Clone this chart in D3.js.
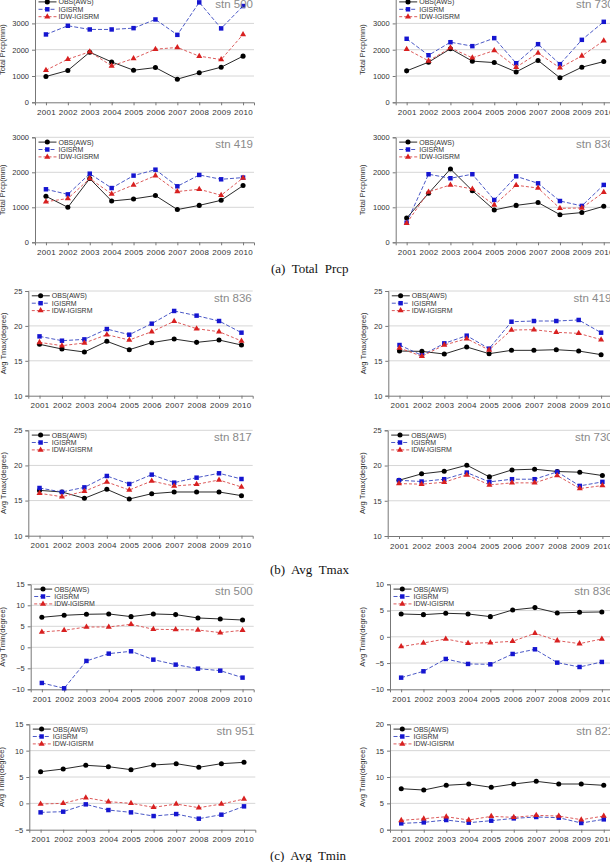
<!DOCTYPE html>
<html><head><meta charset="utf-8">
<script src="https://cdn.jsdelivr.net/npm/d3@7"></script>
<style>body{margin:0;background:#fff}svg{display:block}</style>
</head><body><svg id="c" width="610" height="862"></svg>
<script>
const years = [2001,2002,2003,2004,2005,2006,2007,2008,2009,2010];
const seriesNames = ["OBS(AWS)","IGISRM","IDW-IGISRM"];

// (a) Total Prcp
const prcp500Obs  = [980,1210,1905,1535,1220,1320,880,1120,1335,1755];
const prcp500Igis = [2580,2910,2770,2770,2820,3150,2565,3800,2810,3660];
const prcp500Idw  = [1220,1640,1920,1385,1665,2020,2085,1755,1625,2580];
const prcp730Obs  = [1195,1525,2035,1565,1510,1155,1590,930,1335,1550];
const prcp730Igis = [2415,1790,2285,2135,2440,1485,2210,1450,2375,3060];
const prcp730Idw  = [2020,1575,2070,1690,1970,1335,1870,1310,1765,2340];
const prcp419Obs  = [1315,1000,1820,1180,1240,1335,935,1055,1200,1620];
const prcp419Igis = [1515,1370,1960,1550,1905,2075,1600,1925,1800,1850];
const prcp419Idw  = [1160,1250,1820,1380,1640,1905,1450,1515,1345,1840];
const prcp836Obs  = [695,1400,2095,1475,925,1055,1135,790,850,1030];
const prcp836Igis = [560,1945,1830,1945,1210,1885,1685,1180,1040,1640];
const prcp836Idw  = [545,1440,1640,1525,1065,1630,1550,970,980,1430];
// (b) Avg Tmax
const tmax836Obs  = [17.36,16.69,16.26,17.79,16.59,17.6,18.12,17.64,17.98,17.26];
const tmax836Igis = [18.5,17.88,18.07,19.55,18.74,20.32,22.14,21.47,20.7,19.03];
const tmax836Idw  = [17.64,17.17,17.55,18.74,17.98,19.17,20.65,19.6,19.17,17.84];
const tmax419Obs  = [16.4,16.35,15.97,16.98,16.02,16.5,16.5,16.59,16.4,15.88];
const tmax419Igis = [17.26,15.78,17.5,18.6,16.74,20.6,20.7,20.7,20.85,19.03];
const tmax419Idw  = [16.83,15.64,17.26,18.17,16.55,19.41,19.46,19.08,18.93,18.03];
const tmax817Obs  = [16.45,16.22,15.32,16.6,15.22,15.98,16.22,16.22,16.22,15.7];
const tmax817Igis = [16.79,16.22,16.88,18.5,17.36,18.69,17.55,18.26,18.88,18.07];
const tmax817Idw  = [16.03,15.55,16.31,17.64,16.5,17.78,17.07,17.31,17.93,16.93];
const tmax730Obs  = [17.91,18.82,19.19,20.05,18.39,19.38,19.48,19.15,19.05,18.58];
const tmax730Igis = [17.91,17.73,18.06,19.0,17.68,18.06,18.06,19.1,17.11,17.68];
const tmax730Idw  = [17.44,17.35,17.63,18.67,17.25,17.54,17.54,18.58,16.73,17.16];
// (c) Avg Tmin
const tmin500Obs  = [7.14,7.62,7.86,7.94,7.3,7.94,7.78,6.98,6.75,6.5];
const tmin500Igis = [-8.49,-9.76,-3.25,-1.51,-0.95,-2.94,-4.13,-5.08,-5.56,-7.22];
const tmin500Idw  = [3.65,4.05,4.84,4.84,5.48,4.29,4.21,4.13,3.49,4.05];
const tmin836Obs  = [4.35,4.22,4.48,4.35,3.84,5.11,5.56,4.54,4.67,4.73];
const tmin836Igis = [-7.78,-6.57,-4.22,-5.17,-5.24,-3.27,-2.38,-4.92,-5.75,-4.79];
const tmin836Idw  = [-1.87,-1.17,-0.41,-1.24,-1.11,-0.86,0.67,-0.73,-1.3,-0.41];
const tmin951Obs  = [6.01,6.52,7.22,6.96,6.39,7.28,7.53,6.84,7.53,7.78];
const tmin951Igis = [-1.71,-1.58,-0.19,-1.27,-1.71,-2.41,-2.03,-2.91,-2.15,-0.57];
const tmin951Idw  = [-0.13,0.0,1.08,0.32,0.0,-0.76,-0.13,-0.82,-0.13,0.82];
const tmin821Obs  = [7.78,7.53,8.42,8.67,8.04,8.67,9.18,8.67,8.67,8.42];
const tmin821Igis = [1.2,1.39,1.84,1.33,1.71,2.15,2.41,2.28,1.27,1.96];
const tmin821Idw  = [1.77,2.09,2.47,1.84,2.53,2.34,2.72,2.59,1.9,2.59];

const prcpTicks = [0,1000,2000,3000,4000];
const tmaxTicks = [10,15,20,25];
const tmin500Ticks = [-10,-5,0,5,10,15];
const tmin836Ticks = [-10,-5,0,5,10];
const tmin951Ticks = [-5,0,5,10,15];
const tmin821Ticks = [0,5,10,15,20];
const captions = ["(a)  Total  Prcp","(b)  Avg  Tmax","(c)  Avg  Tmin"];

const panels = [
 {stn:"stn 500", s:[prcp500Obs,prcp500Igis,prcp500Idw], dom:[0,4000], ticks:prcpTicks, yl:"Total Prcp(mm)"},
 {stn:"stn 730", s:[prcp730Obs,prcp730Igis,prcp730Idw], dom:[0,4000], ticks:prcpTicks, yl:"Total Prcp(mm)"},
 {stn:"stn 419", s:[prcp419Obs,prcp419Igis,prcp419Idw], dom:[0,3000], ticks:prcpTicks.slice(0,4), yl:"Total Prcp(mm)"},
 {stn:"stn 836", s:[prcp836Obs,prcp836Igis,prcp836Idw], dom:[0,3000], ticks:prcpTicks.slice(0,4), yl:"Total Prcp(mm)"},
 {stn:"stn 836", s:[tmax836Obs,tmax836Igis,tmax836Idw], dom:[10,25], ticks:tmaxTicks, yl:"Avg Tmax(degree)"},
 {stn:"stn 419", s:[tmax419Obs,tmax419Igis,tmax419Idw], dom:[10,25], ticks:tmaxTicks, yl:"Avg Tmax(degree)"},
 {stn:"stn 817", s:[tmax817Obs,tmax817Igis,tmax817Idw], dom:[10,25], ticks:tmaxTicks, yl:"Avg Tmax(degree)"},
 {stn:"stn 730", s:[tmax730Obs,tmax730Igis,tmax730Idw], dom:[10,25], ticks:tmaxTicks, yl:"Avg Tmax(degree)"},
 {stn:"stn 500", s:[tmin500Obs,tmin500Igis,tmin500Idw], dom:[-10,15], ticks:tmin500Ticks, yl:"Avg Tmin(degree)"},
 {stn:"stn 836", s:[tmin836Obs,tmin836Igis,tmin836Idw], dom:[-10,10], ticks:tmin836Ticks, yl:"Avg Tmin(degree)"},
 {stn:"stn 951", s:[tmin951Obs,tmin951Igis,tmin951Idw], dom:[-5,15], ticks:tmin951Ticks, yl:"Avg Tmin(degree)"},
 {stn:"stn 821", s:[tmin821Obs,tmin821Igis,tmin821Idw], dom:[0,20], ticks:tmin821Ticks, yl:"Avg Tmin(degree)"}
];
// layout (pixels)
const layout = [
 {x0:35,w:219,top:-2.9,bottom:102.3,lab:33},
 {x0:395.7,w:219,top:-2.9,bottom:102.3,lab:33},
 {x0:35,w:219,top:137.3,bottom:242.3,lab:33},
 {x0:395.7,w:219,top:137.3,bottom:242.3,lab:33},
 {x0:28.3,w:224.4,top:291,bottom:395.7,lab:25},
 {x0:388.3,w:224,top:291,bottom:395.7,lab:25},
 {x0:28.3,w:224.4,top:430.3,bottom:535.7,lab:25},
 {x0:387.7,w:226,top:430.3,bottom:536,lab:25},
 {x0:30.7,w:223,top:584.3,bottom:689.3,lab:28},
 {x0:390,w:223,top:584.3,bottom:689.3,lab:28},
 {x0:29.3,w:226,top:724.3,bottom:829.7,lab:28},
 {x0:390,w:225,top:724.3,bottom:829.7,lab:28}
];
const capPos = [{x:271,y:273},{x:270,y:574},{x:270,y:860}];

const styles = [
 {line:"#111", dash:null, fill:"#000", shape:d3.symbolCircle, size:20},
 {line:"#3545c0", dash:"4,2", fill:"#1515d0", shape:d3.symbolSquare, size:20},
 {line:"#d84848", dash:"3,2", fill:"#d82020", shape:d3.symbolTriangle, size:16}
];

const svg = d3.select("#c");
const FONT = "'Liberation Sans', Arial, sans-serif";

panels.forEach((p,i)=>{
  const L = layout[i];
  const g = svg.append("g");
  const x = d3.scaleLinear().domain([2000.5,2010.5]).range([L.x0, L.x0+L.w]);
  const y = d3.scaleLinear().domain(p.dom).range([L.bottom, L.top]);
  g.selectAll("line.grid").data(p.ticks.filter(t=>t!==p.dom[0])).join("line")
    .attr("x1",L.x0).attr("x2",L.x0+L.w).attr("y1",d=>y(d)).attr("y2",d=>y(d))
    .attr("stroke","#d6d6d6").attr("stroke-width",1);
  const ya = g.append("g").attr("transform",`translate(${L.x0},0)`)
    .call(d3.axisLeft(y).tickValues(p.ticks).tickSize(3).tickPadding(3).tickFormat(d3.format("d")));
  const xa = g.append("g").attr("transform",`translate(0,${L.bottom})`)
    .call(d3.axisBottom(x).tickValues(years).tickSize(3).tickPadding(4).tickFormat(d3.format("d")));
  [ya,xa].forEach(a=>{
    a.select(".domain").attr("stroke","#777");
    a.selectAll(".tick line").attr("stroke","#777");
    a.selectAll(".tick text").attr("fill","#333").style("font-family",FONT);
  });
  ya.selectAll(".tick text").style("font-size","7.5px");
  xa.selectAll(".tick text").style("font-size","8px").style("letter-spacing","0.3px");
  g.append("text").attr("transform",`translate(${L.x0-L.lab},${(L.top+L.bottom)/2}) rotate(-90)`)
    .attr("text-anchor","middle").attr("dy","0.35em").attr("fill","#333")
    .style("font-family",FONT).style("font-size","7.5px").text(p.yl);
  p.s.forEach((vals,k)=>{
    const st = styles[k];
    const line = d3.line().x((d,j)=>x(years[j])).y(d=>y(d));
    g.append("path").datum(vals).attr("d",line).attr("fill","none")
      .attr("stroke",st.line).attr("stroke-width",0.9)
      .attr("stroke-dasharray",st.dash);
    g.selectAll(null).data(vals).join("path")
      .attr("transform",(d,j)=>`translate(${x(years[j])},${y(d)})`)
      .attr("d",d3.symbol().type(st.shape).size(st.size)).attr("fill",st.fill);
  });
  const lg = g.append("g").attr("transform",`translate(${L.x0},${L.top})`);
  seriesNames.forEach((n,k)=>{
    const st = styles[k];
    const yy = 4.8 + k*7.4;
    lg.append("line").attr("x1",3.5).attr("x2",21.5).attr("y1",yy).attr("y2",yy)
      .attr("stroke",st.line).attr("stroke-width",0.9).attr("stroke-dasharray",st.dash);
    lg.append("path").attr("transform",`translate(12.3,${yy})`)
      .attr("d",d3.symbol().type(st.shape).size(st.size)).attr("fill",st.fill);
    lg.append("text").attr("x",23.5).attr("y",yy).attr("dy","0.35em").attr("fill","#333")
      .style("font-family",FONT).style("font-size","7px").text(n);
  });
  g.append("text").attr("x",L.x0+L.w-1).attr("y",L.top+11).attr("text-anchor","end")
    .attr("fill","#8a8a8a").style("font-family",FONT).style("font-size","11.5px").text(p.stn);
});

captions.forEach((c,i)=>{
  svg.append("text").attr("x",capPos[i].x).attr("y",capPos[i].y)
    .attr("fill","#111").style("font-family","'Liberation Serif', 'Times New Roman', serif")
    .style("font-size","13px").style("white-space","pre").text(c);
});
</script></body></html>
